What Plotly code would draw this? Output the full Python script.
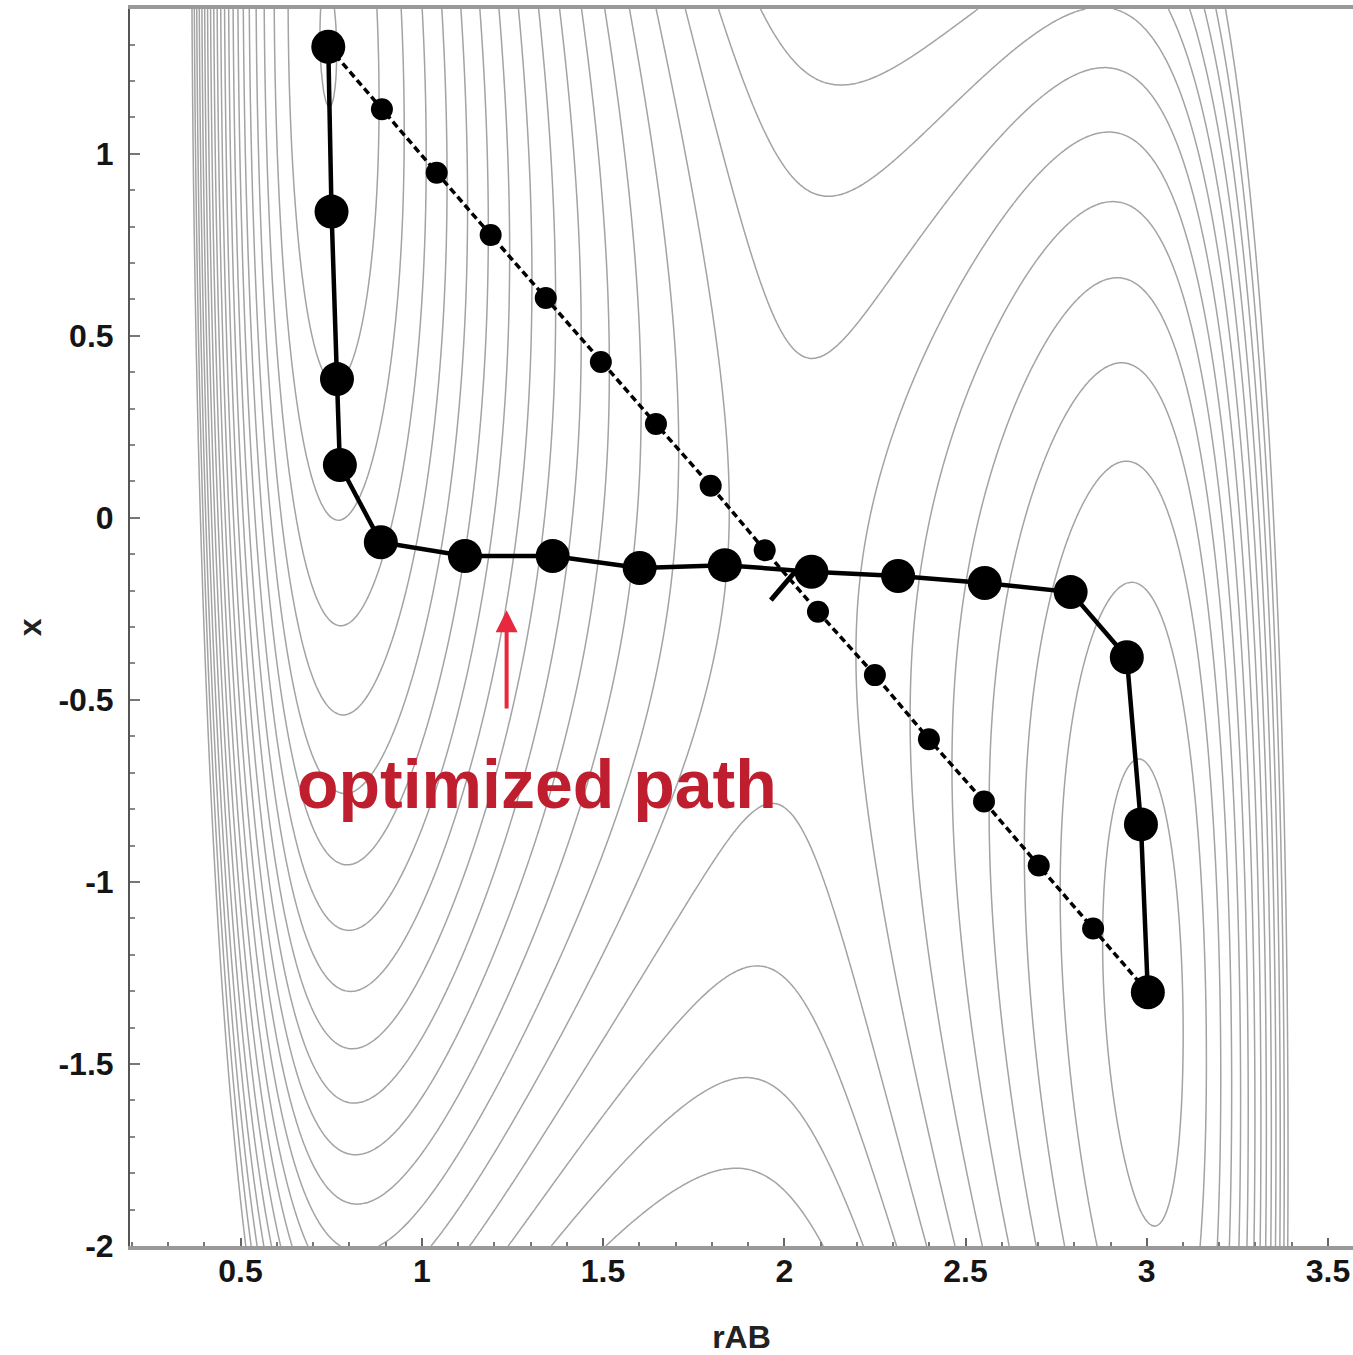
import numpy as np
import plotly.graph_objects as go

# LEPS + harmonic-oscillator model surface parameters
LEPS_A, LEPS_B, LEPS_C = 0.05, 0.80, 0.05
D_AB, D_BC, D_AC = 4.746, 4.746, 3.445
R0, ALPHA = 0.742, 1.942
R_AC, K_C, C_HO = 3.742, 0.2025, 1.154

# contour levels (eV)
level_start, level_end, level_step = -4.5, 0.75, 0.25

# optimized path images (rAB, x)
opt_rab = [0.742, 0.751, 0.766, 0.774, 0.887, 1.119, 1.361, 1.601,
           1.836, 2.075, 2.314, 2.553, 2.790, 2.945, 2.984, 3.003]
opt_x = [1.294, 0.841, 0.381, 0.145, -0.067, -0.105, -0.105, -0.138,
         -0.130, -0.148, -0.160, -0.179, -0.204, -0.383, -0.842, -1.303]

# initial straight-line path images (rAB, x)
init_rab = [0.742, 0.890, 1.041, 1.190, 1.342, 1.494, 1.646, 1.797,
            1.946, 2.093, 2.250, 2.399, 2.551, 2.702, 2.852, 3.003]
init_x = [1.294, 1.122, 0.948, 0.777, 0.604, 0.428, 0.258, 0.088,
          -0.089, -0.258, -0.432, -0.608, -0.779, -0.955, -1.128, -1.303]

# short mark through the saddle region
saddle_rab = [1.963, 2.029]
saddle_x = [-0.226, -0.149]

# annotation arrow: tip and tail, and label centre
arrow_tip = (1.234, -0.254)
arrow_tail = (1.234, -0.528)
label_pos = (1.317, -0.73)


def q_term(r, d):
    return d / 2.0 * (1.5 * np.exp(-2 * ALPHA * (r - R0)) - np.exp(-ALPHA * (r - R0)))


def j_term(r, d):
    return d / 4.0 * (np.exp(-2 * ALPHA * (r - R0)) - 6 * np.exp(-ALPHA * (r - R0)))


def v_leps(r_ab, r_bc):
    r_ac = r_ab + r_bc
    qa, qb, qc = q_term(r_ab, D_AB), q_term(r_bc, D_BC), q_term(r_ac, D_AC)
    ja = j_term(r_ab, D_AB) / (1 + LEPS_A)
    jb = j_term(r_bc, D_BC) / (1 + LEPS_B)
    jc = j_term(r_ac, D_AC) / (1 + LEPS_C)
    root = ja ** 2 + jb ** 2 + jc ** 2 - ja * jb - jb * jc - ja * jc
    return qa / (1 + LEPS_A) + qb / (1 + LEPS_B) + qc / (1 + LEPS_C) - np.sqrt(np.maximum(root, 0))


def v_leps_ho(r_ab, x):
    return v_leps(r_ab, R_AC - r_ab) + 2 * K_C * (r_ab - (R_AC / 2 - x / C_HO)) ** 2


x_range = [0.195, 3.569]
y_range = [-2.0, 1.3975]

grid_r = np.linspace(x_range[0], x_range[1], 500)
grid_x = np.linspace(y_range[0], y_range[1], 500)
RR, XX = np.meshgrid(grid_r, grid_x)
energy = v_leps_ho(RR, XX)

fig = go.Figure()

fig.add_trace(go.Contour(
    x=grid_r, y=grid_x, z=energy,
    contours=dict(start=level_start, end=level_end, size=level_step, coloring="lines"),
    colorscale=[[0, "#a3a3a3"], [1, "#a3a3a3"]],
    line=dict(width=1.5, smoothing=0.8),
    showscale=False, hoverinfo="skip",
))

fig.add_trace(go.Scatter(
    x=init_rab, y=init_x, mode="lines+markers",
    line=dict(color="black", width=3.5, dash="7px,4px"),
    marker=dict(color="black", size=22),
    showlegend=False,
))

fig.add_trace(go.Scatter(
    x=saddle_rab, y=saddle_x, mode="lines",
    line=dict(color="black", width=5),
    showlegend=False,
))

fig.add_trace(go.Scatter(
    x=opt_rab, y=opt_x, mode="lines+markers",
    line=dict(color="black", width=4.5),
    marker=dict(color="black", size=34),
    showlegend=False,
))

fig.add_annotation(
    x=arrow_tip[0], y=arrow_tip[1], ax=arrow_tail[0], ay=arrow_tail[1],
    xref="x", yref="y", axref="x", ayref="y",
    showarrow=True, arrowhead=2, arrowsize=1.1, arrowwidth=4,
    arrowcolor="#e8283c", text="",
)
fig.add_annotation(
    x=label_pos[0], y=label_pos[1], xref="x", yref="y",
    text="<b>optimized path</b>", showarrow=False,
    font=dict(family="Liberation Sans, Arial, sans-serif", size=68, color="#be1e2d"),
)

tick_font = dict(family="Liberation Sans, Arial, sans-serif", size=32, color="#151515", weight="bold")
title_font = dict(family="Liberation Sans, Arial, sans-serif", size=32, color="#222", weight="bold")

# y-axis title placed as a rotated label left of the tick labels
fig.add_annotation(
    x=-0.082, y=0.5, xref="paper", yref="paper", text="x", showarrow=False,
    textangle=-90, font=title_font, xanchor="center", yanchor="middle",
)

fig.update_layout(
    width=1353, height=1355,
    margin=dict(l=130, r=0, t=9, b=109),
    plot_bgcolor="white", paper_bgcolor="white",
    showlegend=False,
    xaxis=dict(
        range=x_range, tickvals=[0.5, 1, 1.5, 2, 2.5, 3, 3.5],
        ticktext=["0.5", "1", "1.5", "2", "2.5", "3", "3.5"],
        ticks="inside", ticklen=8, tickwidth=2, tickcolor="#666",
        minor=dict(dtick=0.1, ticks="inside", ticklen=4, tickwidth=1.5, tickcolor="#777"),
        showline=True, linecolor="#999", linewidth=4, mirror=True,
        showgrid=False, zeroline=False, tickfont=tick_font, ticklabelstandoff=-6,
        automargin=False,
        title=dict(text="rAB", font=title_font, standoff=38),
    ),
    yaxis=dict(
        range=y_range, tickvals=[-2, -1.5, -1, -0.5, 0, 0.5, 1],
        ticktext=["-2", "-1.5", "-1", "-0.5", "0", "0.5", "1"],
        ticks="inside", ticklen=10, tickwidth=2, tickcolor="#777",
        minor=dict(dtick=0.1, ticks="inside", ticklen=5, tickwidth=1.5, tickcolor="#888"),
        showline=True, linecolor="#555", linewidth=2, mirror=False,
        showgrid=False, zeroline=False, tickfont=tick_font, ticklabelstandoff=8,
        automargin=False,
    ),
)

fig.write_html("out.html")
